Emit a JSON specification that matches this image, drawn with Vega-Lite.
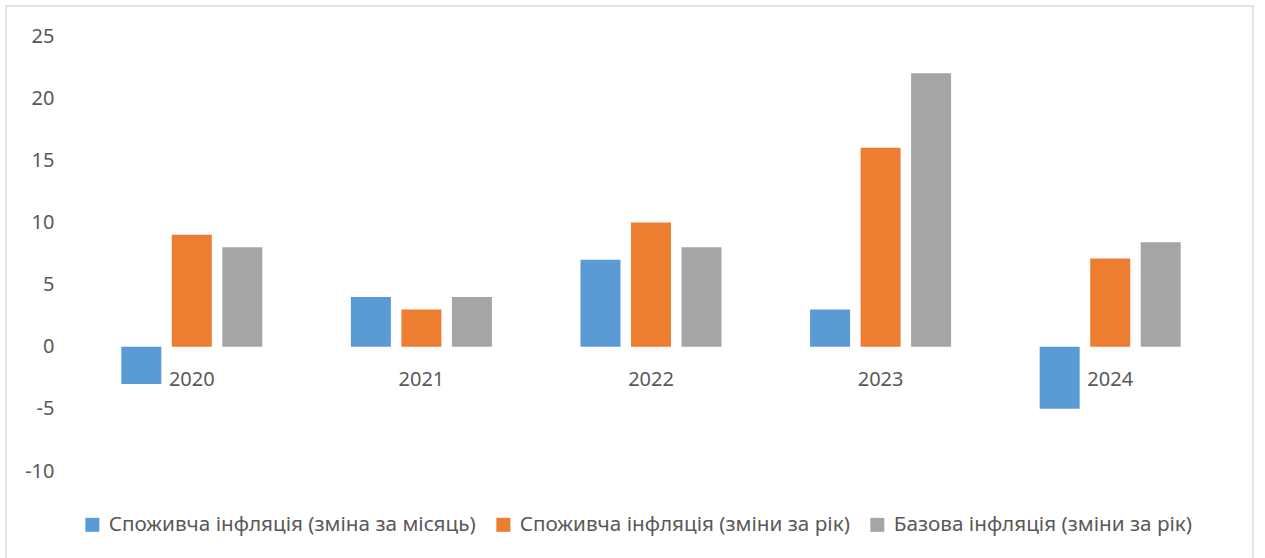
{
  "$schema": "https://vega.github.io/schema/vega-lite/v6.json",
  "width": 1148,
  "height": 435,
  "autosize": {"type": "none"},
  "padding": {"left": 77, "top": 36, "right": 40, "bottom": 87},
  "background": "white",
  "config": {
    "view": {"stroke": null},
    "font": "Noto Sans",
    "axis": {"labelFont": "Noto Sans", "labelColor": "#595959", "labelFontSize": 20},
    "legend": {"labelFont": "Noto Sans", "labelColor": "#595959", "labelFontSize": 20.7, "labelLimit": 0}
  },
  "layer": [
    {
      "data": {"values": [{"frame": "border"}]},
      "mark": {"type": "rect", "fillOpacity": 0, "stroke": "#d9d9d9", "strokeWidth": 1.3, "clip": false},
      "encoding": {
        "x": {"datum": -0.0618, "type": "quantitative", "scale": {"domain": [0, 1], "nice": false, "zero": false}, "axis": null},
        "x2": {"datum": 1.0244},
        "y": {"datum": -0.25, "type": "quantitative", "scale": {"domain": [0, 1], "nice": false, "zero": false}, "axis": null},
        "y2": {"datum": 1.069}
      }
    },
    {
      "data": {
        "values": [
          {"year": "2020", "series": "Споживча інфляція (зміна за місяць)", "value": -3},
          {"year": "2020", "series": "Споживча інфляція (зміни за рік)", "value": 9},
          {"year": "2020", "series": "Базова інфляція (зміни за рік)", "value": 8},
          {"year": "2021", "series": "Споживча інфляція (зміна за місяць)", "value": 4},
          {"year": "2021", "series": "Споживча інфляція (зміни за рік)", "value": 3},
          {"year": "2021", "series": "Базова інфляція (зміни за рік)", "value": 4},
          {"year": "2022", "series": "Споживча інфляція (зміна за місяць)", "value": 7},
          {"year": "2022", "series": "Споживча інфляція (зміни за рік)", "value": 10},
          {"year": "2022", "series": "Базова інфляція (зміни за рік)", "value": 8},
          {"year": "2023", "series": "Споживча інфляція (зміна за місяць)", "value": 3},
          {"year": "2023", "series": "Споживча інфляція (зміни за рік)", "value": 16},
          {"year": "2023", "series": "Базова інфляція (зміни за рік)", "value": 22},
          {"year": "2024", "series": "Споживча інфляція (зміна за місяць)", "value": -5},
          {"year": "2024", "series": "Споживча інфляція (зміни за рік)", "value": 7.1},
          {"year": "2024", "series": "Базова інфляція (зміни за рік)", "value": 8.4}
        ]
      },
      "mark": {"type": "bar"},
      "encoding": {
        "x": {
          "field": "year", "type": "nominal",
          "scale": {"paddingInner": 0, "paddingOuter": 0},
          "axis": {"title": null, "offset": -124, "domain": false, "ticks": false, "grid": false, "labelAngle": 0, "labelPadding": 22}
        },
        "xOffset": {
          "field": "series", "type": "nominal",
          "scale": {"domain": ["Споживча інфляція (зміна за місяць)", "Споживча інфляція (зміни за рік)", "Базова інфляція (зміни за рік)"], "paddingInner": 0.208, "paddingOuter": 0.877}
        },
        "y": {
          "field": "value", "type": "quantitative",
          "scale": {"domain": [-10, 25], "nice": false, "zero": false},
          "axis": {"title": null, "values": [-10, -5, 0, 5, 10, 15, 20, 25], "labelExpr": "'' + datum.value", "domain": false, "ticks": false, "labelPadding": 23, "gridColor": "#d9d9d9", "gridWidth": 1.3}
        },
        "color": {
          "field": "series", "type": "nominal",
          "scale": {"domain": ["Споживча інфляція (зміна за місяць)", "Споживча інфляція (зміни за рік)", "Базова інфляція (зміни за рік)"], "range": ["#5B9BD5", "#ED7D31", "#A5A5A5"]},
          "legend": {"title": null, "orient": "none", "legendX": 5, "legendY": 478, "padding": 0, "direction": "horizontal", "symbolType": "square", "symbolSize": 196, "symbolStrokeWidth": 0, "labelOffset": 6, "columnPadding": 17}
        }
      }
    }
  ],
  "resolve": {"scale": {"x": "independent", "y": "independent"}}
}
